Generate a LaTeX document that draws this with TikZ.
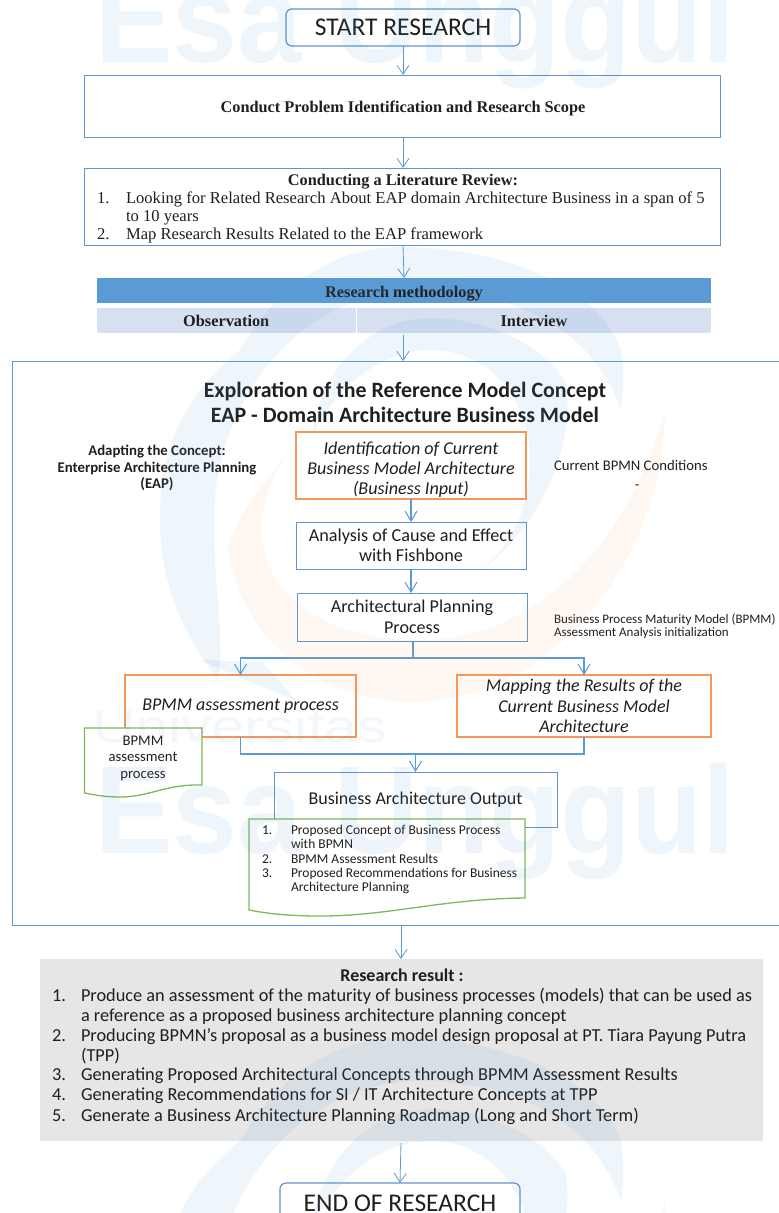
\documentclass[tikz,border=0pt]{standalone}
\usepackage{fontspec}
\setmainfont{Carlito}
\newfontfamily\timesf{Liberation Serif}
\newfontfamily\arialf{Liberation Sans}
\usetikzlibrary{arrows.meta}
\definecolor{bl}{HTML}{5B9BD5}
\definecolor{boxbl}{HTML}{5F94CC}
\definecolor{og}{HTML}{F4975A}
\definecolor{gr}{HTML}{7DB85A}
\definecolor{hdr}{HTML}{5B9BD5}
\definecolor{rowc}{HTML}{D6E0F0}
\definecolor{grayb}{HTML}{E6E6E6}
\newcommand{\fs}[2]{\fontsize{#1}{#2}\selectfont}
\tikzset{
  x=1pt,y=-1pt,
  conn/.style={draw=bl,line width=0.8pt,-{Straight Barb[length=9pt,width=12pt,line width=0.8pt]}},
  conn2/.style={draw=bl,line width=1.3pt,-{Straight Barb[length=10pt,width=12pt,line width=1pt]}},
  seg/.style={draw=bl,line width=1.3pt},
  lbl/.style={inner sep=0pt,outer sep=0pt,text=black!88},
  bbox/.style={draw=boxbl,line width=1pt,inner sep=0pt,outer sep=0pt,align=center,text=black!88},
  obox/.style={draw=og,line width=1.1pt,inner sep=0pt,outer sep=0pt,align=center,text=black!88},
  rbox/.style={draw=boxbl,line width=1.2pt,rounded corners=6pt,inner sep=0pt,outer sep=0pt,align=center,text=black!88},
  doc/.style={draw=gr,line width=1.3pt,fill=white},
  wmb/.style={fill=bl,fill opacity=.10,draw=none},
  wmo/.style={fill=og,fill opacity=.08,draw=none},
  lit/.style={lbl,font=\timesf\fs{16.6}{19},anchor=mid west},
  dit/.style={lbl,font=\fs{13.5}{16},anchor=mid west},
  rit/.style={lbl,font=\fs{18.3}{20},anchor=mid west},
  tbold/.style={font=\timesf\bfseries\fs{16.3}{19}},
}
\newcommand{\wm}[1]{%
\begin{scope}[yshift=-#1pt]
 \node[inner sep=0pt,anchor=base,xscale=.93,transform shape,text=bl,text opacity=.10,font=\arialf\bfseries\fs{125}{125}] (wm#1) at (415,62) {Esa Unggul};
 \path[wmb] (218,680) .. controls (180,630) and (160,580) .. (160,517)
   .. controls (160,440) and (190,390) .. (240,350)
   .. controls (280,280) and (340,247) .. (400,247)
   .. controls (510,247) and (600,290) .. (621,350)
   .. controls (624,370) and (624,390) .. (621,410)
   .. controls (590,320) and (500,290) .. (420,290)
   .. controls (300,290) and (214,400) .. (214,520)
   .. controls (214,590) and (225,640) .. (218,680) -- cycle;
 \path[wmb] (472,577) .. controls (540,530) and (575,450) .. (566,383)
   .. controls (540,340) and (480,318) .. (430,318)
   .. controls (370,318) and (320,370) .. (313,433)
   .. controls (345,375) and (390,350) .. (430,350)
   .. controls (490,350) and (530,400) .. (530,460)
   .. controls (530,510) and (510,550) .. (472,577) -- cycle;
 \path[wmb] (200,660) -- (298,702) -- (262,662) -- cycle;
 \path[wmo] (665,410) .. controls (665,560) and (550,702) .. (412,702)
   .. controls (320,702) and (240,640) .. (228,547)
   .. controls (240,510) and (265,480) .. (288,453)
   .. controls (270,480) and (258,510) .. (262,540)
   .. controls (270,600) and (330,640) .. (420,640)
   .. controls (540,640) and (630,540) .. (665,410) -- cycle;
\end{scope}}
\begin{document}
\begin{tikzpicture}
\useasboundingbox (0,0) rectangle (779,1213);

% nodes
\node[rbox,minimum width=234pt,minimum height=37pt,font=\fs{25.5}{28}] (start) at (403,27.5) {START RESEARCH};
\node[bbox,minimum width=636pt,minimum height=62pt] (prob) at (402,106) {};
\node[lbl,tbold] (probt) at (403,108) {Conduct Problem Identification and Research Scope};
\node[bbox,minimum width=636pt,minimum height=77pt] (lit) at (402,206.5) {};
\node[lbl,tbold] (littitle) at (403,181.5) {Conducting a Literature Review:};
\node[lit] (l1n) at (97,201) {1.};
\node[lit] (l1) at (126,201) {Looking for Related Research About EAP domain Architecture Business in a span of 5};
\node[lit] (l1b) at (126,219) {to 10 years};
\node[lit] (l2n) at (97,237) {2.};
\node[lit] (l2) at (126,237) {Map Research Results Related to the EAP framework};

\node[fill=hdr,inner sep=0pt,outer sep=0pt,minimum width=614pt,minimum height=25pt] (meth) at (404,290.5) {};
\node[lbl,tbold] (metht) at (404,293.5) {Research methodology};
\node[fill=rowc,inner sep=0pt,outer sep=0pt,minimum width=258.5pt,minimum height=25pt,tbold,text=black!88] (obs) at (226.25,320.5) {Observation};
\node[fill=rowc,inner sep=0pt,outer sep=0pt,minimum width=354pt,minimum height=25pt,tbold,text=black!88] (int) at (534,320.5) {Interview};

\draw[draw=bl,line width=1pt] (790,361) -- (12,361) -- (12,925) -- (790,925);
\coordinate (bigtop) at (403,361);
\coordinate (bigbot) at (401,925);
\node[lbl,font=\bfseries\fs{21.9}{24}] (t1) at (405,392) {Exploration of the Reference Model Concept};
\node[lbl,font=\bfseries\fs{21.9}{24}] (t2) at (405,415) {EAP - Domain Architecture Business Model};
\node[lbl,align=center,font=\bfseries\fs{14.8}{16.5}] (adapt) at (157,468) {Adapting the Concept:\\Enterprise Architecture Planning\\(EAP)};

\node[obox,minimum width=230pt,minimum height=67pt] (ident) at (411,465.5) {};
\node[lbl,align=center,font=\itshape\fs{18.1}{20}] (identt) at (411,469.5) {Identification of Current\\Business Model Architecture\\(Business Input)};
\node[lbl,font=\fs{14.7}{16},anchor=mid west] (curr) at (554,468) {Current BPMN Conditions};
\node[lbl,font=\fs{14.7}{16}] (dash) at (637,487) {-};
\node[bbox,minimum width=230pt,minimum height=47pt,font=\fs{18.2}{20}] (fish) at (411,545.5) {Analysis of Cause and Effect\\with Fishbone};
\node[bbox,minimum width=230pt,minimum height=48pt,font=\fs{18.1}{20.5}] (arch) at (412,617) {Architectural Planning\\Process};
\node[lbl,font=\fs{13}{13.3},anchor=west,align=left] (bpmmt) at (554,626.5) {Business Process Maturity Model (BPMM)\\Assessment Analysis initialization};

\node[obox,minimum width=231pt,minimum height=62pt,font=\itshape\fs{18}{20}] (assess) at (240.5,706) {BPMM assessment process};
\node[obox,minimum width=254pt,minimum height=62pt,font=\itshape\fs{18}{20.5}] (map) at (584,706) {Mapping the Results of the\\Current Business Model\\Architecture};

\path[doc] (84.5,728) -- (202,728) -- (202,785) .. controls (165,784) and (150,797) .. (120,797) .. controls (105,797) and (95,795) .. (84.5,793) -- cycle;
\node[lbl,align=center,font=\fs{14.7}{16.5}] (doc1) at (143,758) {BPMM\\assessment\\process};

\node[bbox,minimum width=283pt,minimum height=55pt] (out) at (415.5,799.5) {};
\node[lbl,font=\fs{18}{20}] (outt) at (415.5,800) {Business Architecture Output};
\path[doc] (249,819) -- (525,819) -- (525,898) .. controls (440,899) and (390,916) .. (320,916) .. controls (290,916) and (270,914) .. (249,910) -- cycle;
\node[dit] (d1n) at (262,832.5) {1.};
\node[dit] (d1) at (291,832.5) {Proposed Concept of Business Process};
\node[dit] (d1b) at (291,846.5) {with BPMN};
\node[dit] (d2n) at (262,861.5) {2.};
\node[dit] (d2) at (291,861.5) {BPMM Assessment Results};
\node[dit] (d3n) at (262,875.5) {3.};
\node[dit] (d3) at (291,875.5) {Proposed Recommendations for Business};
\node[dit] (d3b) at (291,889.5) {Architecture Planning};

\node[fill=grayb,inner sep=0pt,outer sep=0pt,minimum width=723pt,minimum height=182pt] (res) at (401.5,1050) {};
\node[lbl,font=\bfseries\fs{18}{20}] (rest) at (402,975) {Research result :};
\node[rit] (r1n) at (52,999) {1.};
\node[rit] (r1) at (81,999) {Produce an assessment of the maturity of business processes (models) that can be used as};
\node[rit] (r1b) at (81,1019) {a reference as a proposed business architecture planning concept};
\node[rit] (r2n) at (52,1039) {2.};
\node[rit] (r2) at (81,1039) {Producing BPMN's proposal as a business model design proposal at PT. Tiara Payung Putra};
\node[rit] (r2b) at (81,1059) {(TPP)};
\node[rit] (r3n) at (52,1078) {3.};
\node[rit] (r3) at (81,1078) {Generating Proposed Architectural Concepts through BPMM Assessment Results};
\node[rit] (r4n) at (52,1098) {4.};
\node[rit] (r4) at (81,1098) {Generating Recommendations for SI / IT Architecture Concepts at TPP};
\node[rit] (r5n) at (52,1119) {5.};
\node[rit] (r5) at (81,1119) {Generate a Business Architecture Planning Roadmap (Long and Short Term)};

\node[rbox,minimum width=240pt,minimum height=60pt,anchor=north] (end) at (400,1183) {};
\node[lbl,font=\fs{25.5}{28}] (endt) at (400,1203) {END OF RESEARCH};

% connectors
\draw[conn] (start.south) -- (start.south |- prob.north);
\draw[conn] (prob.north |- prob.south) ++(1,0) coordinate (a1) -- (a1 |- lit.north);
\draw[conn] (a1 |- lit.south) -- (meth.north);
\coordinate (a3) at (403,335);
\draw[conn] (a3) -- (bigtop);
\draw[conn2] (ident.south) -- (fish.north);
\draw[conn2] (fish.south) -- (fish.south |- arch.north);
\draw[seg] (413,641) coordinate (archb) -- (413,658) coordinate (sp);
\draw[conn2] (sp) -- (assess.north |- sp) -- (assess.north);
\draw[conn2] (sp) -- (map.north |- sp) -- (map.north);
\draw[seg] (assess.south) -- (assess.south |- 0,754) coordinate (j1) -- (map.south |- 0,754) -- (map.south);
\draw[conn2] (out.north |- j1) -- (out.north);
\draw[conn] (bigbot) -- (bigbot |- res.north);
\coordinate (b4) at (401,1143);
\draw[conn] (b4) -- (end.north);

% faint watermark
\begin{scope}
\clip (0,0) rectangle (779,1213);
\wm{0}
\wm{791}
\node[inner sep=0pt,anchor=mid,xscale=1.3,transform shape,text=bl,text opacity=.08,font=\arialf\fs{46}{46}] (univ) at (240,740) {Universitas};
\end{scope}
\end{tikzpicture}
\end{document}
